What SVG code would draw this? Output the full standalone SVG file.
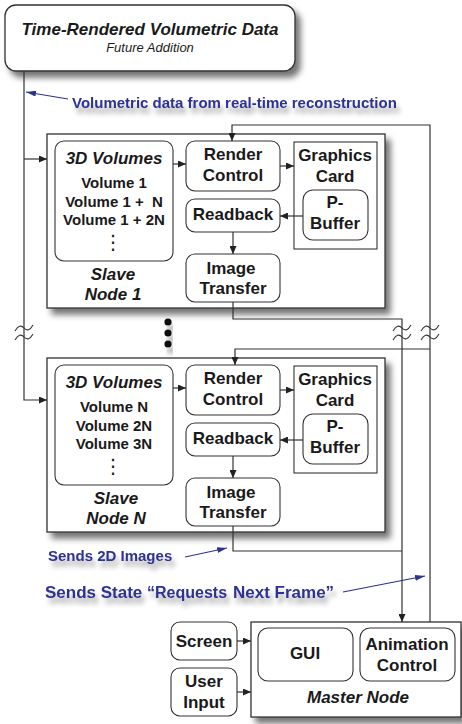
<svg xmlns="http://www.w3.org/2000/svg" width="462" height="724" viewBox="0 0 462 724">
<defs>
<filter id="sh" x="-10%" y="-10%" width="130%" height="140%">
<feGaussianBlur in="SourceAlpha" stdDeviation="3"/>
<feOffset dx="5" dy="6" result="b"/>
<feComponentTransfer><feFuncA type="linear" slope="0.55"/></feComponentTransfer>
<feMerge><feMergeNode/><feMergeNode in="SourceGraphic"/></feMerge>
</filter>
<filter id="tsh" x="-10%" y="-30%" width="120%" height="190%">
<feGaussianBlur in="SourceAlpha" stdDeviation="2.5"/>
<feOffset dx="3" dy="6" result="b"/>
<feComponentTransfer><feFuncA type="linear" slope="0.35"/></feComponentTransfer>
<feMerge><feMergeNode/><feMergeNode in="SourceGraphic"/></feMerge>
</filter>
<marker id="ah" markerUnits="userSpaceOnUse" markerWidth="8" markerHeight="7" refX="8" refY="3.5" orient="auto">
<path d="M0,0 L8,3.5 L0,7 z" fill="#222"/>
</marker>
<marker id="bh" markerUnits="userSpaceOnUse" markerWidth="10" markerHeight="6" refX="10" refY="3" orient="auto">
<path d="M0,0 L10,3 L0,6 z" fill="#2e3192"/>
</marker>
<path id="tl" d="M-9,3 Q-4.5,-5 0,0 T9,-3"/>
</defs>
<style>
.box{fill:#fff;stroke:#333;stroke-width:1.3}
.ib{fill:#fff;stroke:#333;stroke-width:1.1}
.t{font-family:"Liberation Sans",Arial,sans-serif;font-weight:bold;font-size:17px;fill:#1a1a1a;text-anchor:middle}
.it{font-style:italic}
.v{font-size:15px}
.blue{font-family:"Liberation Sans",Arial,sans-serif;font-weight:bold;fill:#2e3192}
.ln{fill:none;stroke:#333;stroke-width:1.2}
.bl{fill:none;stroke:#2e3192;stroke-width:1.1}
.tl{fill:none;stroke:#333;stroke-width:1.1}
</style>

<g id="top-node">
<rect x="5" y="5" width="290" height="66" rx="11" class="box" filter="url(#sh)"/>
<text x="150" y="35" class="t it">Time-Rendered Volumetric Data</text>
<text x="150" y="52" class="t it" style="font-weight:normal;font-size:13px">Future Addition</text>
</g>

<g id="slave-node-1">
<rect x="47" y="134" width="338" height="174" class="box" filter="url(#sh)"/>
<rect x="55" y="141" width="118" height="120" rx="9" class="ib"/>
<text x="114" y="164" class="t it">3D Volumes</text>
<text x="114" y="188" class="t v">Volume 1</text>
<text x="114" y="207" class="t v" style="white-space:pre">Volume 1 +  N</text>
<text x="114" y="225" class="t v">Volume 1 + 2N</text>
<text x="113" y="249" class="t" style="font-family:'DejaVu Sans',sans-serif;font-weight:normal;font-size:20px">⋮</text>
<text x="113" y="280" class="t it">Slave</text>
<text x="113" y="300" class="t it">Node 1</text>
<rect x="186" y="141" width="94" height="50" rx="9" class="ib"/>
<text x="233" y="160" class="t">Render</text>
<text x="233" y="181" class="t">Control</text>
<rect x="294" y="142" width="83" height="107" class="ib"/>
<text x="335" y="161" class="t">Graphics</text>
<text x="335" y="182" class="t">Card</text>
<rect x="303" y="190" width="65" height="50" rx="10" class="ib"/>
<text x="335" y="208" class="t">P-</text>
<text x="335" y="229" class="t">Buffer</text>
<rect x="186" y="199" width="94" height="33" rx="9" class="ib"/>
<text x="233" y="220" class="t">Readback</text>
<rect x="186" y="254" width="94" height="48" rx="9" class="ib"/>
<text x="231" y="274" class="t">Image</text>
<text x="233" y="294" class="t">Transfer</text>
</g>

<g id="slave-node-n">
<rect x="47" y="358" width="338" height="174" class="box" filter="url(#sh)"/>
<rect x="55" y="365" width="118" height="120" rx="9" class="ib"/>
<text x="114" y="388" class="t it">3D Volumes</text>
<text x="114" y="412" class="t v">Volume N</text>
<text x="114" y="431" class="t v">Volume 2N</text>
<text x="114" y="449" class="t v">Volume 3N</text>
<text x="113" y="473" class="t" style="font-family:'DejaVu Sans',sans-serif;font-weight:normal;font-size:20px">⋮</text>
<text x="116" y="504" class="t it">Slave</text>
<text x="116" y="524" class="t it">Node N</text>
<rect x="186" y="365" width="94" height="50" rx="9" class="ib"/>
<text x="233" y="384" class="t">Render</text>
<text x="233" y="405" class="t">Control</text>
<rect x="294" y="366" width="83" height="107" class="ib"/>
<text x="335" y="385" class="t">Graphics</text>
<text x="335" y="406" class="t">Card</text>
<rect x="303" y="414" width="65" height="50" rx="10" class="ib"/>
<text x="335" y="432" class="t">P-</text>
<text x="335" y="453" class="t">Buffer</text>
<rect x="186" y="423" width="94" height="33" rx="9" class="ib"/>
<text x="233" y="444" class="t">Readback</text>
<rect x="186" y="478" width="94" height="48" rx="9" class="ib"/>
<text x="231" y="498" class="t">Image</text>
<text x="233" y="518" class="t">Transfer</text>
</g>

<g id="ellipsis" filter="url(#tsh)">
<circle cx="168" cy="322" r="3.6" fill="#111"/>
<circle cx="168" cy="333" r="3.6" fill="#111"/>
<circle cx="168" cy="344" r="3.6" fill="#111"/>
</g>

<g id="master-node">
<rect x="251" y="622" width="210" height="95" class="box" filter="url(#sh)"/>
<rect x="258" y="628" width="95" height="53" rx="10" class="ib"/>
<text x="305" y="659" class="t">GUI</text>
<rect x="360" y="628" width="95" height="53" rx="10" class="ib"/>
<text x="407" y="650" class="t">Animation</text>
<text x="407" y="671" class="t">Control</text>
<text x="358" y="703" class="t it">Master Node</text>
</g>

<g id="screen">
<rect x="171" y="622" width="66" height="38" rx="9" class="ib"/>
<text x="204" y="647" class="t">Screen</text>
</g>

<g id="user-input">
<rect x="171" y="668" width="66" height="48" rx="9" class="ib"/>
<text x="204" y="687" class="t">User</text>
<text x="204" y="708" class="t">Input</text>
</g>

<g id="connectors">
<path class="ln" d="M24,71 V400 H47" marker-end="url(#ah)"/>
<path class="ln" d="M24,159 H47" marker-end="url(#ah)"/>
<path class="ln" d="M430,622 V125 H232 V141" marker-end="url(#ah)"/>
<path class="ln" d="M430,349 H235 V365" marker-end="url(#ah)"/>
<path class="ln" d="M233,302 V319 H402 V622" marker-end="url(#ah)"/>
<path class="ln" d="M233,526 V551 H402"/>
<path class="ln" d="M173,164 H186" marker-end="url(#ah)"/>
<path class="ln" d="M280,166 H294" marker-end="url(#ah)"/>
<path class="ln" d="M303,216 H280" marker-end="url(#ah)"/>
<path class="ln" d="M233,232 V254" marker-end="url(#ah)"/>
<path class="ln" d="M173,388 H186" marker-end="url(#ah)"/>
<path class="ln" d="M280,390 H294" marker-end="url(#ah)"/>
<path class="ln" d="M303,440 H280" marker-end="url(#ah)"/>
<path class="ln" d="M233,456 V478" marker-end="url(#ah)"/>
<path class="ln" d="M237,641 H251" marker-end="url(#ah)"/>
<path class="ln" d="M237,692 H251" marker-end="url(#ah)"/>
<use href="#tl" x="24" y="328" class="tl"/>
<use href="#tl" x="24" y="337" class="tl"/>
<use href="#tl" x="402" y="328" class="tl"/>
<use href="#tl" x="402" y="337" class="tl"/>
<use href="#tl" x="430" y="328" class="tl"/>
<use href="#tl" x="430" y="337" class="tl"/>
<path class="bl" d="M68,99 L26,92" marker-end="url(#bh)"/>
<path class="bl" d="M185,557 L227,548" marker-end="url(#bh)"/>
<path class="bl" d="M343,592 L425,576" marker-end="url(#bh)"/>
</g>

<g id="labels" filter="url(#tsh)">
<text x="72" y="108" class="blue" font-size="15">Volumetric data from real-time reconstruction</text>
<text x="48" y="561" class="blue" font-size="15">Sends 2D Images</text>
<text y="598" class="blue"><tspan x="45" font-size="17">Sends State</tspan><tspan x="147" font-size="16">“Requests</tspan><tspan x="233" font-size="17">Next Frame”</tspan></text>
</g>
</svg>
